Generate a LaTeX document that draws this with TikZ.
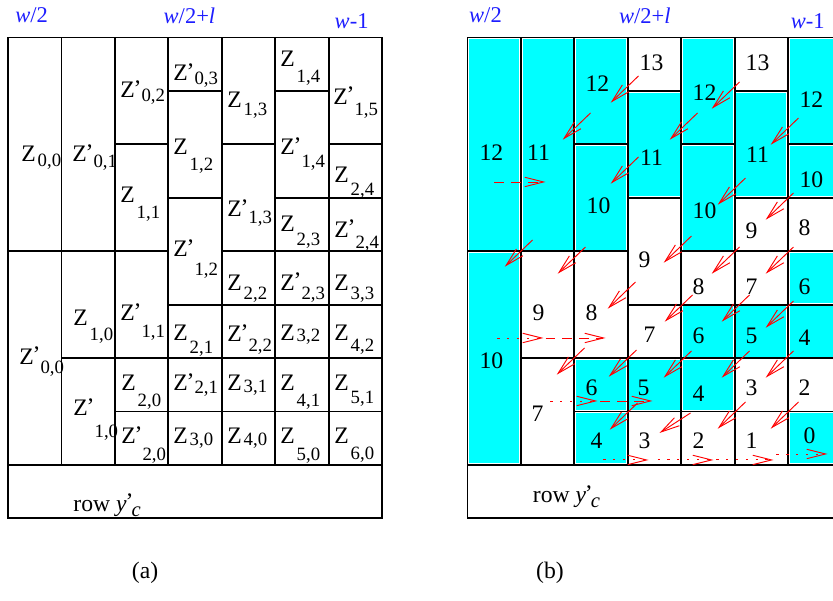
\documentclass[tikz,border=0pt]{standalone}
\usepackage{fontspec}
\setmainfont{Liberation Serif}
\usepackage{tikz}
\usetikzlibrary{arrows.meta}
\definecolor{cellc}{HTML}{00FFFF}
\definecolor{flowc}{HTML}{FF0000}
\definecolor{labc}{HTML}{1E1EFF}
\newcommand{\zpr}{\kern-0.6pt\raisebox{1pt}{’}\kern-1pt}
% label Z with a lowered index: name, position, prime, index, drop
\newcommand{\zcell}[5]{%
  \node[zlab] (#1) at (#2)
    {Z#3\kern1pt\raisebox{-#5pt}{\fontsize{10}{12}\selectfont #4}};
}
\newcommand{\cellgrid}{%
  \foreach \c/\lo/\hi in {0/4/8, 0/0/4, 1/4/8, 1/2/4, 1/0/2,
      2/6/8, 2/4/6, 2/2/4, 2/1/2, 2/0/1,
      3/7/8, 3/5/7, 3/3/5, 3/2/3, 3/1/2, 3/0/1,
      4/6/8, 4/4/6, 4/3/4, 4/2/3, 4/1/2, 4/0/1,
      5/7/8, 5/5/7, 5/4/5, 5/3/4, 5/2/3, 5/1/2, 5/0/1,
      6/6/8, 6/5/6, 6/4/5, 6/3/4, 6/2/3, 6/1/2, 6/0/1}
    \draw[cellline] (\c,\lo) rectangle (\c+1,\hi);
  \draw[cellline] (0,-1) rectangle (7,0);
}

\begin{document}
\begin{tikzpicture}[>=Stealth,
    font=\fontsize{12.6}{15}\selectfont,
    cellline/.style={line width=1pt, black},
    zlab/.style={anchor=base west, inner sep=0pt},
    num/.style={inner sep=0pt},
    toplab/.style={anchor=base west, inner sep=0pt, labc,
                   font=\fontsize{12}{14}\selectfont},
    rowlab/.style={anchor=base west, inner sep=0pt},
    flow/.style={flowc, line width=0.5pt,
                 -{Straight Barb[length=10pt, width=5pt]}},
    dashflow/.style={flow, dash pattern=on 5pt off 4pt},
    dotflow/.style={flow, dash pattern=on 1.2pt off 4pt}]
  \clip (-0.15,-2.545) rectangle (15.441,8.703);

  % (a)
  \cellgrid
  \node[toplab] (wa1) at (0.131,8.278) {\textit{w}/2};
  \node[toplab] (wa2) at (2.907,8.266) {\textit{w}/2+\textit{l}};
  \node[toplab] (wa3) at (6.108,8.173) {\textit{w}-1};
  \zcell{z00}{0.243,5.671}{}{0,0}{2.4}
  \zcell{zp00}{0.206,1.890}{\zpr}{0,0}{4.8}
  \zcell{zp01}{1.198,5.671}{\zpr}{0,1}{2.7}
  \zcell{z10}{1.217,2.602}{}{1,0}{7.5}
  \zcell{zp10}{1.217,0.917}{\zpr}{1,0}{11.2}
  \zcell{zp02}{2.096,6.869}{\zpr}{0,2}{1.8}
  \zcell{z11}{2.096,4.922}{}{1,1}{9}
  \zcell{zp11}{2.096,2.695}{\zpr}{1,1}{9}
  \zcell{z20}{2.115,1.385}{}{2,0}{8.5}
  \zcell{zp20}{2.115,0.393}{\zpr}{2,0}{9}
  \zcell{zp03}{3.088,7.187}{\zpr}{0,3}{1.8}
  \zcell{z12}{3.088,5.802}{}{1,2}{8}
  \zcell{zp12}{3.088,3.893}{\zpr}{1,2}{9.6}
  \zcell{z21}{3.088,2.339}{}{2,1}{7}
  \zcell{zp21}{3.088,1.385}{\zpr}{2,1}{1.6}
  \zcell{z30}{3.088,0.393}{}{3,0}{0.8}
  \zcell{z13}{4.099,6.700}{}{1,3}{4.3}
  \zcell{zp13}{4.099,4.642}{\zpr}{1,3}{3.7}
  \zcell{z22}{4.099,3.275}{}{2,2}{5.3}
  \zcell{zp22}{4.099,2.302}{\zpr}{2,2}{5.3}
  \zcell{z31}{4.099,1.385}{}{3,1}{1}
  \zcell{z40}{4.099,0.393}{}{4,0}{1}
  \zcell{z14}{5.091,7.449}{}{1,4}{8}
  \zcell{zp14}{5.091,5.802}{\zpr}{1,4}{6.4}
  \zcell{z23}{5.091,4.361}{}{2,3}{7}
  \zcell{zp23}{5.091,3.275}{\zpr}{2,3}{5.3}
  \zcell{z32}{5.091,2.339}{}{3,2}{1}
  \zcell{z41}{5.091,1.385}{}{4,1}{8.5}
  \zcell{z50}{5.091,0.393}{}{5,0}{9}
  \zcell{zp15}{6.083,6.756}{\zpr}{1,5}{5.9}
  \zcell{z24}{6.101,5.278}{}{2,4}{6.4}
  \zcell{zp24}{6.101,4.267}{\zpr}{2,4}{5.9}
  \zcell{z33}{6.101,3.275}{}{3,3}{5.3}
  \zcell{z42}{6.101,2.339}{}{4,2}{5.9}
  \zcell{z51}{6.101,1.385}{}{5,1}{6.4}
  \zcell{z60}{6.101,0.393}{}{6,0}{8.5}
  \node[rowlab] (rowa) at (1.217,-0.874)
    {row \textit{y}\zpr\raisebox{-2.5pt}{\fontsize{11}{13}\selectfont\textit{c}}};
  \node[anchor=base] (capa) at (2.564,-2.13) {(a)};

  % (b)
  \begin{scope}[xshift=8.6cm]
    \foreach \c/\lo/\hi in {0/4/8, 0/0/4, 1/4/8, 2/6/8, 2/4/6, 2/1/2, 2/0/1,
        3/5/7, 3/1/2, 4/6/8, 4/4/6, 4/2/3, 4/1/2, 5/5/7, 5/2/3,
        6/6/8, 6/5/6, 6/3/4, 6/2/3, 6/0/1}
      \fill[cellc] (\c+0.03,\lo+0.03) rectangle (\c+0.97,\hi-0.03);
    \cellgrid
    \node[toplab] (wb1) at (0.025,8.278) {\textit{w}/2};
    \node[toplab] (wb2) at (2.832,8.266) {\textit{w}/2+\textit{l}};
    \node[toplab] (wb3) at (6.046,8.173) {\textit{w}-1};
    \foreach \x/\y/\t [count=\k] in {0.449/5.84/12, 0.449/1.946/10,
        1.329/5.84/11, 1.329/2.845/9, 1.31/0.955/7,
        2.433/7.13/12, 2.452/4.847/10, 2.321/2.845/8, 2.321/1.441/6,
        2.414/0.449/4,
        3.444/7.524/13, 3.444/5.746/11, 3.313/3.837/9, 3.406/2.433/7,
        3.294/1.441/5, 3.313/0.449/3,
        4.436/6.962/12, 4.436/4.754/10, 4.323/3.331/8, 4.323/2.414/6,
        4.323/1.329/4, 4.323/0.449/2,
        5.428/7.524/13, 5.428/5.802/11, 5.315/4.38/9, 5.315/3.331/7,
        5.315/2.414/5, 5.315/1.441/3, 5.315/0.449/1,
        6.438/6.831/12, 6.438/5.334/10, 6.307/4.436/8, 6.307/3.331/6,
        6.307/2.377/4, 6.307/1.441/2, 6.401/0.543/0}
      \node[num] (n\k) at (\x,\y) {\t};
    % diagonal steps
    \foreach \x/\y in {3.200/7.281, 2.302/6.588, 5.091/7.168, 4.305/6.588,
        6.195/6.494, 3.200/5.765, 1.217/4.211, 2.208/4.080, 5.203/5.371,
        6.101/5.091, 4.192/4.286, 5.091/4.080, 6.101/4.080, 3.144/3.425,
        2.190/2.190, 3.163/2.152, 4.211/3.182, 5.278/3.182, 6.101/3.069,
        4.192/2.134, 5.278/2.134, 6.101/2.134, 3.182/1.160, 5.203/1.179,
        6.195/1.179}
      \draw[flow] (\x,\y) -- ++(-0.52,-0.5);
    \draw[flow] (4.174,0.973) -- (3.594,0.599);
    % horizontal steps
    \draw[dashflow] (0.505,5.297) -- (1.460,5.297);
    \draw[dotflow] (0.561,2.377) -- (1.422,2.377);
    \draw[dashflow] (1.460,2.377) -- (2.583,2.377);
    \draw[dotflow] (1.553,1.198) -- (2.433,1.198);
    \draw[dashflow] (2.489,1.198) -- (3.462,1.198);
    \draw[dotflow] (2.545,0.094) -- (3.388,0.094);
    \draw[dotflow] (3.560,0.094) -- (4.604,0.094);
    \draw[dotflow] (4.660,0.094) -- (5.727,0.094);
    \draw[dotflow] (5.783,0.206) -- (6.738,0.206);
    \node[rowlab] (rowb) at (1.217,-0.711)
      {row \textit{y}\zpr\raisebox{-2.5pt}{\fontsize{11}{13}\selectfont\textit{c}}};
  \end{scope}
  \node[anchor=base] (capb) at (10.144,-2.13) {(b)};
\end{tikzpicture}
\end{document}
